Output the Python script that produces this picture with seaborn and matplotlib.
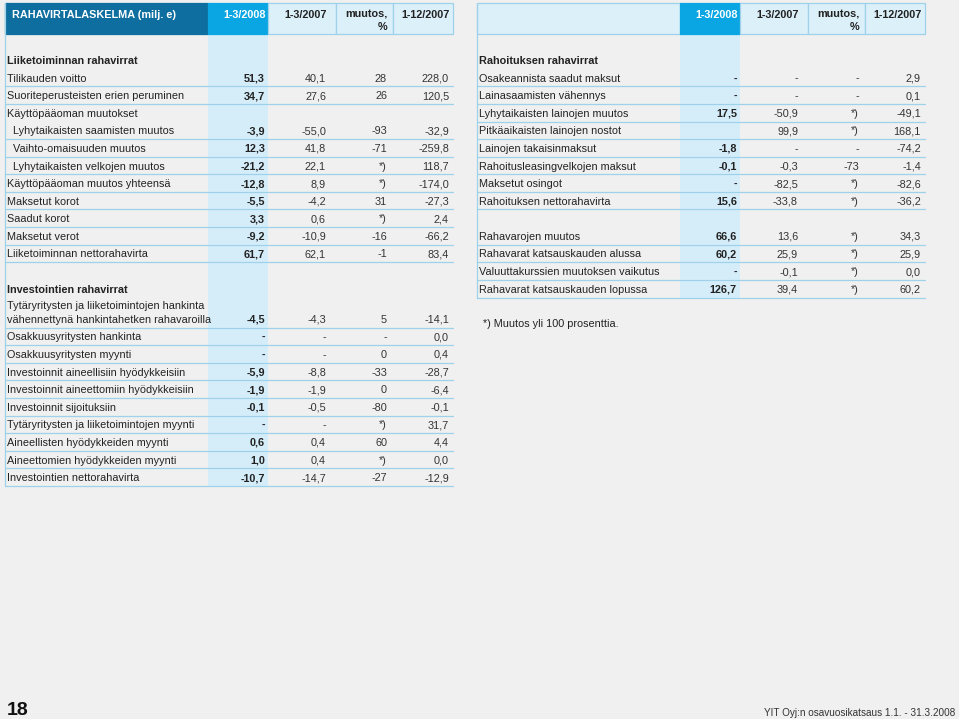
import matplotlib
matplotlib.use("Agg")
import matplotlib.pyplot as plt
import seaborn as sns

# --- data ---
header_cols = ["1-3/2008", "1-3/2007", "muutos,\n%", "1-12/2007"]

left_labels = [
    "Liiketoiminnan rahavirrat", "Tilikauden voitto", "Suoriteperusteisten erien peruminen",
    "Käyttöpääoman muutokset", "Lyhytaikaisten saamisten muutos", "Vaihto-omaisuuden muutos",
    "Lyhytaikaisten velkojen muutos", "Käyttöpääoman muutos yhteensä", "Maksetut korot",
    "Saadut korot", "Maksetut verot", "Liiketoiminnan nettorahavirta", "",
    "Investointien rahavirrat",
    "Tytäryritysten ja liiketoimintojen hankinta\nvähennettynä hankintahetken rahavaroilla",
    "Osakkuusyritysten hankinta", "Osakkuusyritysten myynti",
    "Investoinnit aineellisiin hyödykkeisiin", "Investoinnit aineettomiin hyödykkeisiin",
    "Investoinnit sijoituksiin", "Tytäryritysten ja liiketoimintojen myynti",
    "Aineellisten hyödykkeiden myynti", "Aineettomien hyödykkeiden myynti",
    "Investointien nettorahavirta",
]
left_kind = ["section", "item", "item", "group", "sub", "sub", "sub", "item", "item", "item",
             "item", "item", "blank", "section", "two", "item", "item", "item", "item", "item",
             "item", "item", "item", "item"]
left_q1_2008 = ["", "51,3", "34,7", "", "-3,9", "12,3", "-21,2", "-12,8", "-5,5", "3,3", "-9,2",
                "61,7", "", "", "-4,5", "-", "-", "-5,9", "-1,9", "-0,1", "-", "0,6", "1,0", "-10,7"]
left_q1_2007 = ["", "40,1", "27,6", "", "-55,0", "41,8", "22,1", "8,9", "-4,2", "0,6", "-10,9",
                "62,1", "", "", "-4,3", "-", "-", "-8,8", "-1,9", "-0,5", "-", "0,4", "0,4", "-14,7"]
left_change = ["", "28", "26", "", "-93", "-71", "*)", "*)", "31", "*)", "-16", "-1", "", "",
               "5", "-", "0", "-33", "0", "-80", "*)", "60", "*)", "-27"]
left_fy2007 = ["", "228,0", "120,5", "", "-32,9", "-259,8", "118,7", "-174,0", "-27,3", "2,4",
               "-66,2", "83,4", "", "", "-14,1", "0,0", "0,4", "-28,7", "-6,4", "-0,1", "31,7",
               "4,4", "0,0", "-12,9"]

right_labels = [
    "Rahoituksen rahavirrat", "Osakeannista saadut maksut", "Lainasaamisten vähennys",
    "Lyhytaikaisten lainojen muutos", "Pitkäaikaisten lainojen nostot", "Lainojen takaisinmaksut",
    "Rahoitusleasingvelkojen maksut", "Maksetut osingot", "Rahoituksen nettorahavirta", "",
    "Rahavarojen muutos", "Rahavarat katsauskauden alussa", "Valuuttakurssien muutoksen vaikutus",
    "Rahavarat katsauskauden lopussa",
]
right_kind = ["section", "item", "item", "item", "item", "item", "item", "item", "item", "blank",
              "item", "item", "item", "item"]
right_q1_2008 = ["", "-", "-", "17,5", "", "-1,8", "-0,1", "-", "15,6", "", "66,6", "60,2", "-", "126,7"]
right_q1_2007 = ["", "-", "-", "-50,9", "99,9", "-", "-0,3", "-82,5", "-33,8", "", "13,6", "25,9", "-0,1", "39,4"]
right_change = ["", "-", "-", "*)", "*)", "-", "-73", "*)", "*)", "", "*)", "*)", "*)", "*)"]
right_fy2007 = ["", "2,9", "0,1", "-49,1", "168,1", "-74,2", "-1,4", "-82,6", "-36,2", "", "34,3",
                "25,9", "0,0", "60,2"]

footnote = "*) Muutos yli 100 prosenttia."
page_no = "18"
footer = "YIT Oyj:n osavuosikatsaus 1.1. - 31.3.2008"

# --- style ---
sns.set_theme(style="white")
plt.rcParams["font.family"] = ["Liberation Sans", "DejaVu Sans"]

BG = "#eff0ef"
DARK = "#0d6e9f"
BRIGHT = "#0aa6e3"
LIGHT = "#d5edf9"
HEAD_LIGHT = "#dcf0fa"
LINE = "#9fd2ea"
TXT = "#222222"
FS = 7.8
BASE = 4.0  # baseline offset below row centre

fig = plt.figure(figsize=(9.59, 7.19), dpi=100, facecolor=BG)
ax = fig.add_axes([0, 0, 1, 1])
ax.set_facecolor(BG)
ax.set_xlim(0, 959)
ax.set_ylim(719, 0)
ax.axis("off")

ROW_H = 17.6
TWO_H = 30.0
EDGES = [0, 203, 263, 331, 388, 448]   # relative column edges
ANCH = [260, 321, 382, 444]            # relative right anchors of numbers


def txt(x, y, s, **kw):
    kw.setdefault("fontsize", FS)
    kw.setdefault("color", TXT)
    ax.text(x, y + BASE, s, va="baseline", zorder=3, **kw)


def draw_table(x0, labels, kinds, cols, title=None):
    top, head_bot = 3, 33.5
    # header cells
    for i in range(len(EDGES) - 1):
        a, b = x0 + EDGES[i], x0 + EDGES[i + 1]
        if i == 0:
            fc = DARK if title else HEAD_LIGHT
        elif i == 1:
            fc = BRIGHT
        else:
            fc = HEAD_LIGHT
        ax.add_patch(plt.Rectangle((a, top), b - a, head_bot - top, fc=fc,
                                   ec=LINE if fc == HEAD_LIGHT else fc, lw=0.9, zorder=1))
    if title:
        txt(x0 + 7, 13.5, title, color="white", fontweight="bold")
    for j, h in enumerate(header_cols):
        parts = h.split("\n")
        c = "white" if j == 0 else TXT
        txt(x0 + ANCH[j] + 1, 13.5, parts[0], color=c, fontweight="bold", ha="right")
        if len(parts) > 1:
            txt(x0 + ANCH[j], 26.5, parts[1], color=c, fontweight="bold", ha="right")

    # body rows
    y = head_bot + ROW_H  # blank spacer row under header
    for k, (lab, kind) in enumerate(zip(labels, kinds)):
        h = TWO_H if kind == "two" else ROW_H
        ty = y + h - ROW_H / 2  # last text line centre
        if kind == "section":
            txt(x0 + 2, ty, lab, fontweight="bold")
        elif kind == "two":
            l1, l2 = lab.split("\n")
            txt(x0 + 2, ty - 14, l1)
            txt(x0 + 2, ty, l2)
        elif kind != "blank":
            txt(x0 + (8 if kind == "sub" else 2), ty, lab)
        for j, col in enumerate(cols):
            v = col[k]
            if v:
                txt(x0 + ANCH[j], ty, v, fontweight="bold" if j == 0 else "normal",
                    color=TXT if j == 0 else "#333333", ha="right")
        y += h
        if kind in ("item", "sub", "two"):
            ax.plot([x0, x0 + EDGES[-1]], [y, y], color=LINE, lw=0.9, zorder=2)
    # highlighted first value column + left border
    ax.add_patch(plt.Rectangle((x0 + EDGES[1], head_bot), EDGES[2] - EDGES[1], y - head_bot,
                               fc=LIGHT, ec="none", zorder=0.5))
    ax.plot([x0, x0], [top, y], color=LINE, lw=0.9, zorder=2)


draw_table(5, left_labels, left_kind,
           [left_q1_2008, left_q1_2007, left_change, left_fy2007],
           title="RAHAVIRTALASKELMA (milj. e)")
draw_table(477, right_labels, right_kind,
           [right_q1_2008, right_q1_2007, right_change, right_fy2007])

txt(483, 323, footnote)
txt(7, 711, page_no, fontsize=14, fontweight="bold", color="#111111")
txt(955, 711.5, footer, fontsize=7.2, color="#333333", ha="right")

fig.savefig("out.png", dpi=100, facecolor=BG)
